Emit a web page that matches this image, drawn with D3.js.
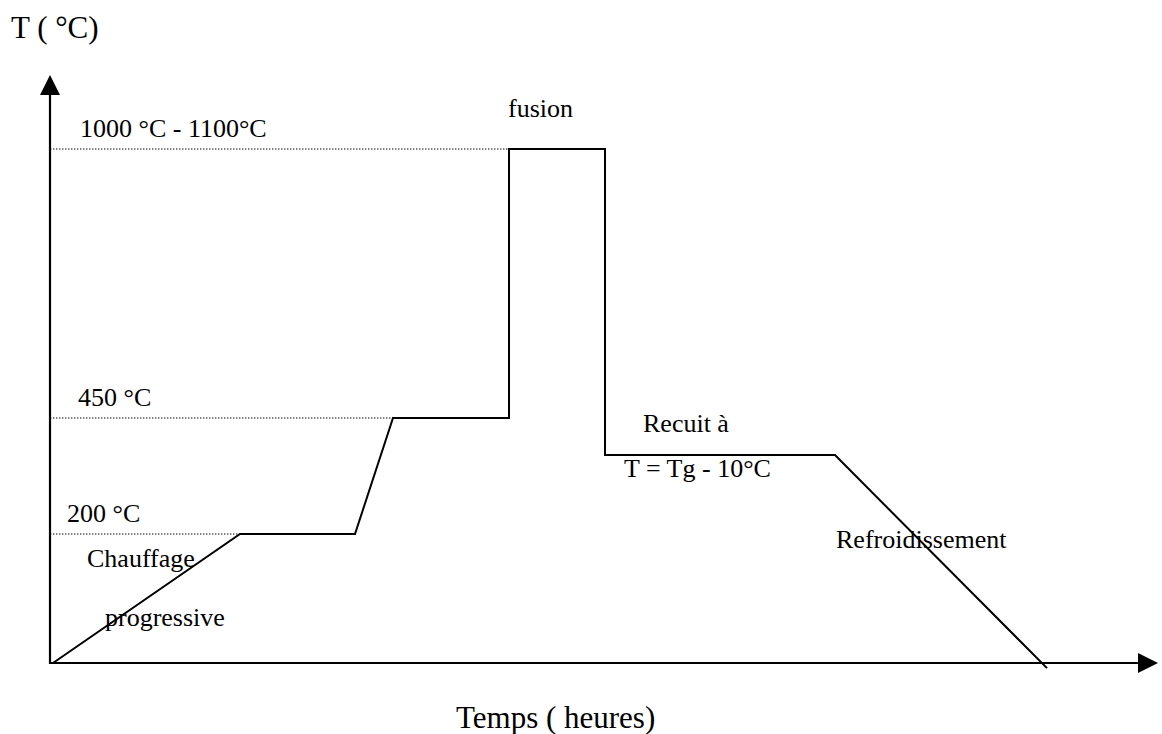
<!DOCTYPE html>
<html>
<head>
<meta charset="utf-8">
<script src="https://cdn.jsdelivr.net/npm/d3@7"></script>
<style>
  body { margin: 0; background: #fff; }
  svg text { font-family: "Liberation Serif", "Times New Roman", serif; fill: #000; }
</style>
</head>
<body>
<div class="chart"></div>
<script>
// Schematic firing profile: time in arbitrary units, temperature in °C
var profileTime = [0.3, 19, 30.5, 34.3, 45.9, 45.9, 55.5, 55.5, 78.5, 99.7];
var profileTemp = [0, 200, 200, 450, 450, 1050, 1050, 370, 370, -8];

// reference levels drawn as dotted guides
var levelTemps = [1050, 450, 200];
var levelLabels = ["1000 °C - 1100°C", "450 °C", "200 °C"];

// stage annotations (time, temperature anchor)
var stageLabels = ["fusion", "Recuit à", "T = Tg - 10°C", "Chauffage", "progressive", "Refroidissement"];
var stageTime = [45.8, 59.3, 57.4, 3.7, 5.5, 78.6];
var stageTemp = [1050, 370, 370, 200, 200, 370];
var stageDy = [-32, -23, 22, 33, 92, 93];

var svgWidth = 1162;
var svgHeight = 734;

var svg = d3.select(".chart")
  .append("svg")
  .attr("width", svgWidth)
  .attr("height", svgHeight);

// x: time -> px ; y: piecewise linear because the sketch is not to scale
var xScale = d3.scaleLinear()
  .domain([0, 100])
  .range([50, 1050]);

var yScale = d3.scaleLinear()
  .domain([0, 200, 450, 1050])
  .range([663, 534, 418, 149]);

var x0 = xScale(0), y0 = yScale(0);

// axes with arrow heads
svg.append("line")
  .attr("x1", x0).attr("y1", y0 + 1)
  .attr("x2", x0).attr("y2", 92)
  .attr("stroke", "#000").attr("stroke-width", 2.2);

svg.append("path")
  .attr("d", `M${x0},75 L${x0 - 10},95 L${x0 + 10},95 Z`)
  .attr("fill", "#000");

svg.append("line")
  .attr("x1", x0 - 1).attr("y1", y0)
  .attr("x2", 1142).attr("y2", y0)
  .attr("stroke", "#000").attr("stroke-width", 2.2);

svg.append("path")
  .attr("d", `M1158,${y0} L1138,${y0 - 10} L1138,${y0 + 10} Z`)
  .attr("fill", "#000");

// dotted guides up to where the profile first reaches each level
var profile = profileTime.map((t, i) => ({t: t, temp: profileTemp[i]}));

levelTemps.forEach(function(lv, i) {
  var hit = profile.find(d => d.temp >= lv);
  svg.append("line")
    .attr("x1", x0).attr("y1", yScale(lv))
    .attr("x2", xScale(hit.t)).attr("y2", yScale(lv))
    .attr("stroke", "#000")
    .attr("stroke-width", 1.2)
    .attr("stroke-dasharray", "1.4,1.6");
});

svg.selectAll(".level-label")
  .data(levelTemps)
  .enter()
  .append("text")
  .attr("class", "level-label")
  .attr("x", (d, i) => [80, 78, 67][i])
  .attr("y", d => yScale(d) - 12)
  .attr("font-size", "26px")
  .text((d, i) => levelLabels[i]);

// the profile itself
var line = d3.line()
  .x(d => xScale(d.t))
  .y(d => yScale(d.temp));

svg.append("path")
  .datum(profile)
  .attr("d", line)
  .attr("fill", "none")
  .attr("stroke", "#000")
  .attr("stroke-width", 2)
  .attr("stroke-linejoin", "miter");

// stage annotations
svg.selectAll(".stage-label")
  .data(stageLabels)
  .enter()
  .append("text")
  .attr("class", "stage-label")
  .attr("x", (d, i) => xScale(stageTime[i]))
  .attr("y", (d, i) => yScale(stageTemp[i]) + stageDy[i])
  .attr("font-size", "26px")
  .text(d => d);

// axis titles
svg.append("text")
  .attr("x", 11)
  .attr("y", 38)
  .attr("font-size", "31px")
  .text("T ( °C)");

svg.append("text")
  .attr("x", 456)
  .attr("y", 728)
  .attr("font-size", "31px")
  .text("Temps ( heures)");
</script>
</body>
</html>
